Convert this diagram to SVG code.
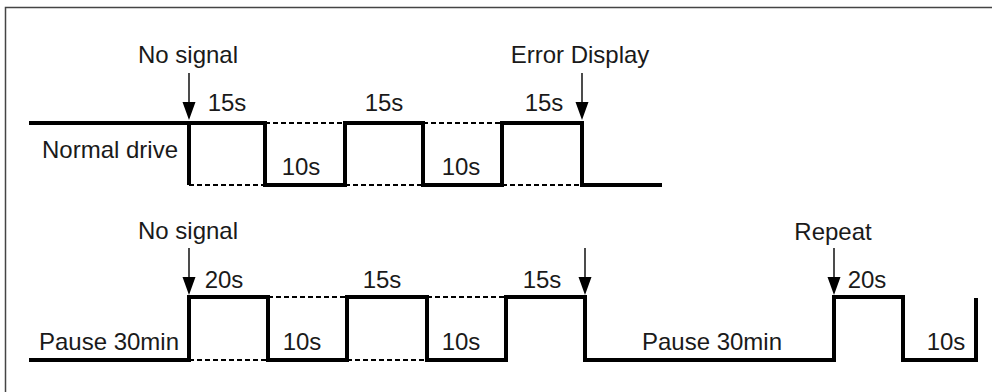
<svg xmlns="http://www.w3.org/2000/svg" width="992" height="392" viewBox="0 0 992 392">
<defs>
<style>
text{font-family:"Liberation Sans",Arial,sans-serif;font-size:24px;fill:#1a1a1a;text-anchor:middle}
.w{fill:none;stroke:#000;stroke-width:4;stroke-linejoin:miter;stroke-linecap:butt}
.d{fill:none;stroke:#000;stroke-width:2;stroke-dasharray:5 3}
.a{stroke:#000;stroke-width:1.4;fill:none}
.h{fill:#000}
</style>
</defs>
<rect width="992" height="392" fill="#fff"/>
<path d="M5.5 392 V7.5 H992" fill="none" stroke="#444" stroke-width="1.5"/>
<g id="row1">
<path class="w" d="M29 123 H189 V185 M189 123 H265 V185 H345 V123 H423 V185 H502 V123 H582 V185 H662"/>
<path class="d" d="M189 185 H265 M345 185 H423 M502 185 H582 M265 123 H345 M423 123 H502"/>
<text x="188" y="63">No signal</text>
<text x="227" y="111">15s</text>
<text x="110" y="158">Normal drive</text>
<text x="301" y="175">10s</text>
<text x="384" y="111">15s</text>
<text x="461" y="175">10s</text>
<text x="544" y="111">15s</text>
<text x="580" y="63">Error Display</text>
</g>
<g id="row2">
<path class="w" d="M29 360 H189 V297 H268 V360 H347 V297 H427 V360 H506 V297 H585 V360 H834 V297 H903 V360 H976 V298"/>
<path class="d" d="M189 360 H268 M347 360 H427 M268 297 H347 M427 297 H506"/>
<text x="188" y="239">No signal</text>
<text x="224" y="288">20s</text>
<text x="109" y="350">Pause 30min</text>
<text x="302" y="350">10s</text>
<text x="382" y="288">15s</text>
<text x="461" y="350">10s</text>
<text x="542" y="288">15s</text>
<text x="712" y="350">Pause 30min</text>
<text x="833" y="240">Repeat</text>
<text x="867" y="288">20s</text>
<text x="946" y="350">10s</text>
</g>
<g id="arrows">
<path class="a" d="M189 73 V104 M582 73 V104 M189 248 V279 M585 248 V279 M834 248 V279"/>
<path class="h" d="M182.5 102 H195.5 L189 120 Z M575.5 102 H588.5 L582 120 Z M182.5 277 H195.5 L189 295 Z M578.5 277 H591.5 L585 295 Z M827.5 277 H840.5 L834 295 Z"/>
</g>
</svg>
